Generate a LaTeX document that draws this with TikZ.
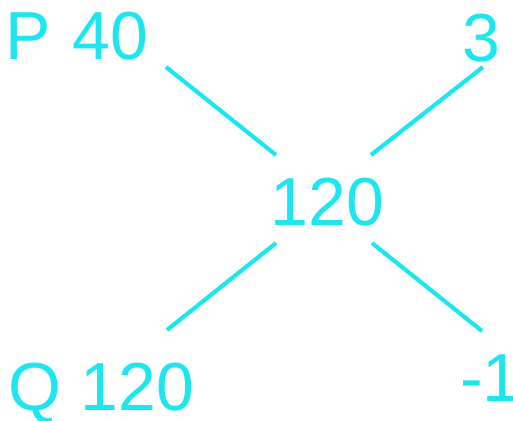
\documentclass[tikz,border=0pt]{standalone}
\usepackage{fontspec}
\setmainfont{Liberation Sans}
\definecolor{cy}{RGB}{30,230,240}
\begin{document}
\begin{tikzpicture}[x=1pt,y=1pt,
  lbl/.style={inner sep=0pt,text=cy,font=\fontsize{68}{68}\selectfont},
  conn/.style={draw=cy,line width=4.2pt}]
\useasboundingbox (0,0) rectangle (513,420);
\node[lbl,anchor=base west] (P) at (5.5,360) {P\kern3pt{} 40};
\node[lbl,anchor=base east] (T) at (501,358) {3};
\node[lbl,anchor=base] (C) at (327.3,194) {120};
\node[lbl,anchor=base west] (Q) at (8.7,10) {Q 120};
\node[lbl,anchor=base east] (M) at (508.5,19) {-1\kern-12.5pt};
\coordinate (a1) at (166,353);
\coordinate (a2) at (276,265);
\coordinate (b1) at (483,353);
\coordinate (b2) at (371,265);
\coordinate (c1) at (167,90);
\coordinate (c2) at (276,177);
\coordinate (d1) at (482,89);
\coordinate (d2) at (372,177);
\draw[conn] (a1) -- (a2);
\draw[conn] (b1) -- (b2);
\draw[conn] (c1) -- (c2);
\draw[conn] (d1) -- (d2);
\end{tikzpicture}
\end{document}
